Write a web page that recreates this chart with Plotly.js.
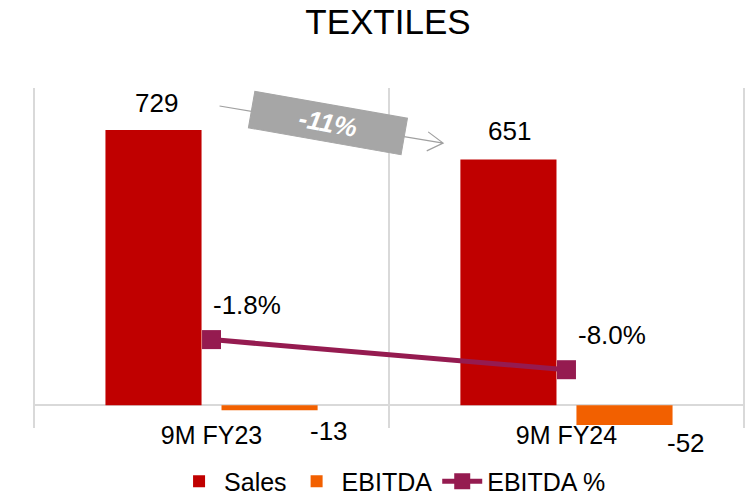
<!DOCTYPE html>
<html>
<head>
<meta charset="utf-8">
<script src="https://cdn.plot.ly/plotly-3.0.1.min.js"></script>
<style>
  html, body { margin: 0; padding: 0; background: #fff; }
  #chart { width: 746px; height: 500px; }
</style>
</head>
<body>
<div id="chart"></div>
<script>
// данные графика
const categories = ['9M FY23', '9M FY24'];
const sales = [729, 651];
const ebitda = [-13, -52];
const ebitdaPct = [-1.8, -8.0];
const salesChange = '-11%';

const FONT = 'Liberation Sans, Arial, sans-serif';
const labelFont = { family: FONT, size: 26, color: '#000' };

// подписи значений (сдвиги в пикселях от точки данных)
const salesShift = [[-55, 27], [-57, 28]];
const ebitdaShift = [[117, -21], [120, -18]];
const pctShift = [[35, 35], [46, 35]];

const annotations = [];
categories.forEach((c, i) => {
    annotations.push({ x: c, y: sales[i], xref: 'x', yref: 'y', text: String(sales[i]),
        showarrow: false, xshift: salesShift[i][0], yshift: salesShift[i][1], font: labelFont });
    annotations.push({ x: c, y: ebitda[i], xref: 'x', yref: 'y', text: String(ebitda[i]),
        showarrow: false, xshift: ebitdaShift[i][0], yshift: ebitdaShift[i][1], font: labelFont });
    annotations.push({ x: c, y: ebitdaPct[i], xref: 'x', yref: 'y2', text: ebitdaPct[i].toFixed(1) + '%',
        showarrow: false, xshift: pctShift[i][0], yshift: pctShift[i][1], font: labelFont });
});

// серая плашка с изменением продаж
annotations.push({
    x: 0.414, y: 0.898, xref: 'paper', yref: 'paper',
    xanchor: 'center', yanchor: 'middle',
    text: '<b><i>' + salesChange + '</i></b>',
    showarrow: false, textangle: 10,
    width: 152, height: 34, borderpad: 1,
    bgcolor: '#A6A6A6', bordercolor: '#A6A6A6',
    font: { family: FONT, size: 26, color: '#fff' }
});

const data = [
    {
        x: categories, y: sales, type: 'bar', name: 'Sales',
        marker: { color: '#C00000' }, hoverinfo: 'skip'
    },
    {
        x: categories, y: ebitda, type: 'bar', name: 'EBITDA',
        marker: { color: '#F26000' }, hoverinfo: 'skip'
    },
    {
        x: categories, y: ebitdaPct, type: 'scatter', mode: 'lines+markers', name: 'EBITDA %',
        yaxis: 'y2',
        line: { color: '#951B50', width: 5 },
        marker: { symbol: 'square', size: 19, color: '#951B50' },
        hoverinfo: 'skip'
    }
];

const layout = {
    width: 746, height: 500,
    margin: { l: 33, r: 1, t: 88, b: 72, autoexpand: false },
    paper_bgcolor: '#fff', plot_bgcolor: '#fff',
    font: { family: FONT, size: 25, color: '#000' },
    title: {
        text: 'TEXTILES', x: 0.52, xanchor: 'center', y: 0.956, yanchor: 'middle',
        font: { family: FONT, size: 35, color: '#000' }
    },
    barmode: 'group', bargap: 0.346, bargroupgap: 0.172,
    xaxis: {
        type: 'category', range: [-0.503, 1.503],
        tickson: 'boundaries', ticks: '',
        showgrid: true, gridcolor: '#D9D9D9', gridwidth: 2,
        showline: false, zeroline: false,
        ticklabelstandoff: -10,
        tickfont: { family: FONT, size: 25, color: '#000' }
    },
    yaxis: {
        range: [-60, 840], showgrid: false, showticklabels: false, ticks: '',
        zeroline: true, zerolinecolor: '#D9D9D9', zerolinewidth: 2, showline: false
    },
    yaxis2: {
        range: [-20, 50], overlaying: 'y', side: 'right', visible: false, showgrid: false, zeroline: false
    },
    showlegend: true,
    legend: {
        orientation: 'h', x: 0.505, xanchor: 'center', y: -0.09, yanchor: 'top',
        font: { family: FONT, size: 25, color: '#000' },
        traceorder: 'normal', itemwidth: 40
    },
    shapes: [{
        type: 'path', xref: 'paper', yref: 'paper', layer: 'above',
        path: 'M 0.262 0.947 L 0.576 0.838 M 0.555 0.871 L 0.576 0.838 L 0.553 0.815',
        line: { color: '#A0A0A0', width: 1.2 }
    }],
    annotations: annotations
};

Plotly.newPlot('chart', data, layout, { staticPlot: true, displayModeBar: false });
</script>
</body>
</html>
